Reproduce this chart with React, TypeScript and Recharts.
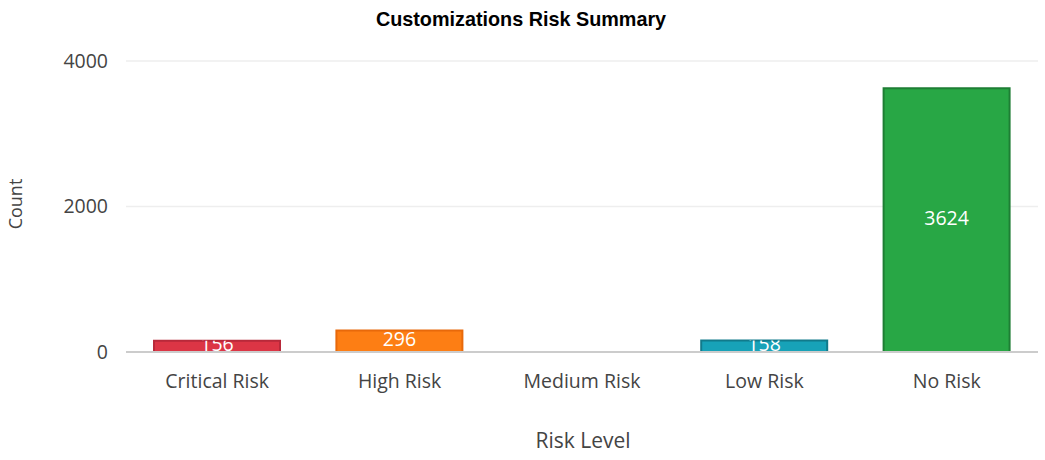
import { BarChart, Bar, Cell, XAxis, YAxis, CartesianGrid, ReferenceLine, LabelList } from 'recharts';

const categories = ['Critical Risk', 'High Risk', 'Medium Risk', 'Low Risk', 'No Risk'];
const counts = [156, 296, 0, 158, 3624];
const fills = ['#dc3545', '#fd7e14', '#ffc107', '#17a2b8', '#28a745'];
const strokes = ['#b8293a', '#e8690a', '#d39e00', '#117a8b', '#1e7e34'];
const yTicks = [0, 2000, 4000];

const data = categories.map((name, i) => ({ name, count: counts[i] }));

const FONT = '"Open Sans", sans-serif';

// value label centred in the bar and clipped to it, like the original
function BarValue(props: any) {
  const { x, y, width, height, value, index } = props;
  if (!value) return null;
  const id = `clip-${index}`;
  return (
    <g>
      <clipPath id={id}>
        <rect x={x} y={y} width={width} height={height} />
      </clipPath>
      <text
        x={x + width / 2}
        y={y + height / 2}
        dy="0.26em"
        textAnchor="middle"
        fill="#fff"
        fontSize={19.5}
        fontFamily={FONT}
        clipPath={`url(#${id})`}
      >
        {value}
      </text>
    </g>
  );
}

export default function App() {
  return (
    <div style={{ position: 'absolute', top: 0, left: 0, width: 1045, height: 460, background: '#fff' }}>
      <BarChart
        width={1045}
        height={460}
        data={data}
        margin={{ top: 61, right: 7, left: 66, bottom: 78 }}
        barSize={126}
      >
        <CartesianGrid vertical={false} stroke="#eeeeee" strokeWidth={1.5} />
        <XAxis
          dataKey="name"
          height={30}
          axisLine={false}
          tickLine={false}
          tickSize={0}
          tickMargin={22}
          tick={{ fontSize: 19.5, fill: '#444', fontFamily: FONT }}
        />
        <YAxis
          width={60}
          domain={[0, 4000]}
          ticks={yTicks}
          axisLine={false}
          tickLine={false}
          tickSize={0}
          tickMargin={18}
          tick={{ fontSize: 19.5, fill: '#444', fontFamily: FONT }}
        />
        <Bar dataKey="count" strokeWidth={2} isAnimationActive={false}>
          {data.map((_, i) => (
            <Cell key={i} fill={fills[i]} stroke={strokes[i]} />
          ))}
          <LabelList dataKey="count" content={BarValue} />
        </Bar>
        <ReferenceLine y={0} stroke="#cccccc" strokeWidth={2} />
      </BarChart>
      <div
        style={{
          position: 'absolute', left: 521, top: 20, transform: 'translate(-50%, -50%)',
          font: 'bold 19.8px "Liberation Sans", Arial, sans-serif', lineHeight: 1, color: '#000', whiteSpace: 'nowrap',
        }}
      >
        Customizations Risk Summary
      </div>
      <div
        style={{
          position: 'absolute', left: 583, top: 440, transform: 'translate(-50%, -50%)',
          fontFamily: FONT, fontSize: 21, lineHeight: 1, color: '#444', whiteSpace: 'nowrap',
        }}
      >
        Risk Level
      </div>
      <div
        style={{
          position: 'absolute', left: 15, top: 204, transform: 'translate(-50%, -50%) rotate(-90deg)',
          fontFamily: FONT, fontSize: 18, lineHeight: 1, color: '#444', whiteSpace: 'nowrap',
        }}
      >
        Count
      </div>
    </div>
  );
}
